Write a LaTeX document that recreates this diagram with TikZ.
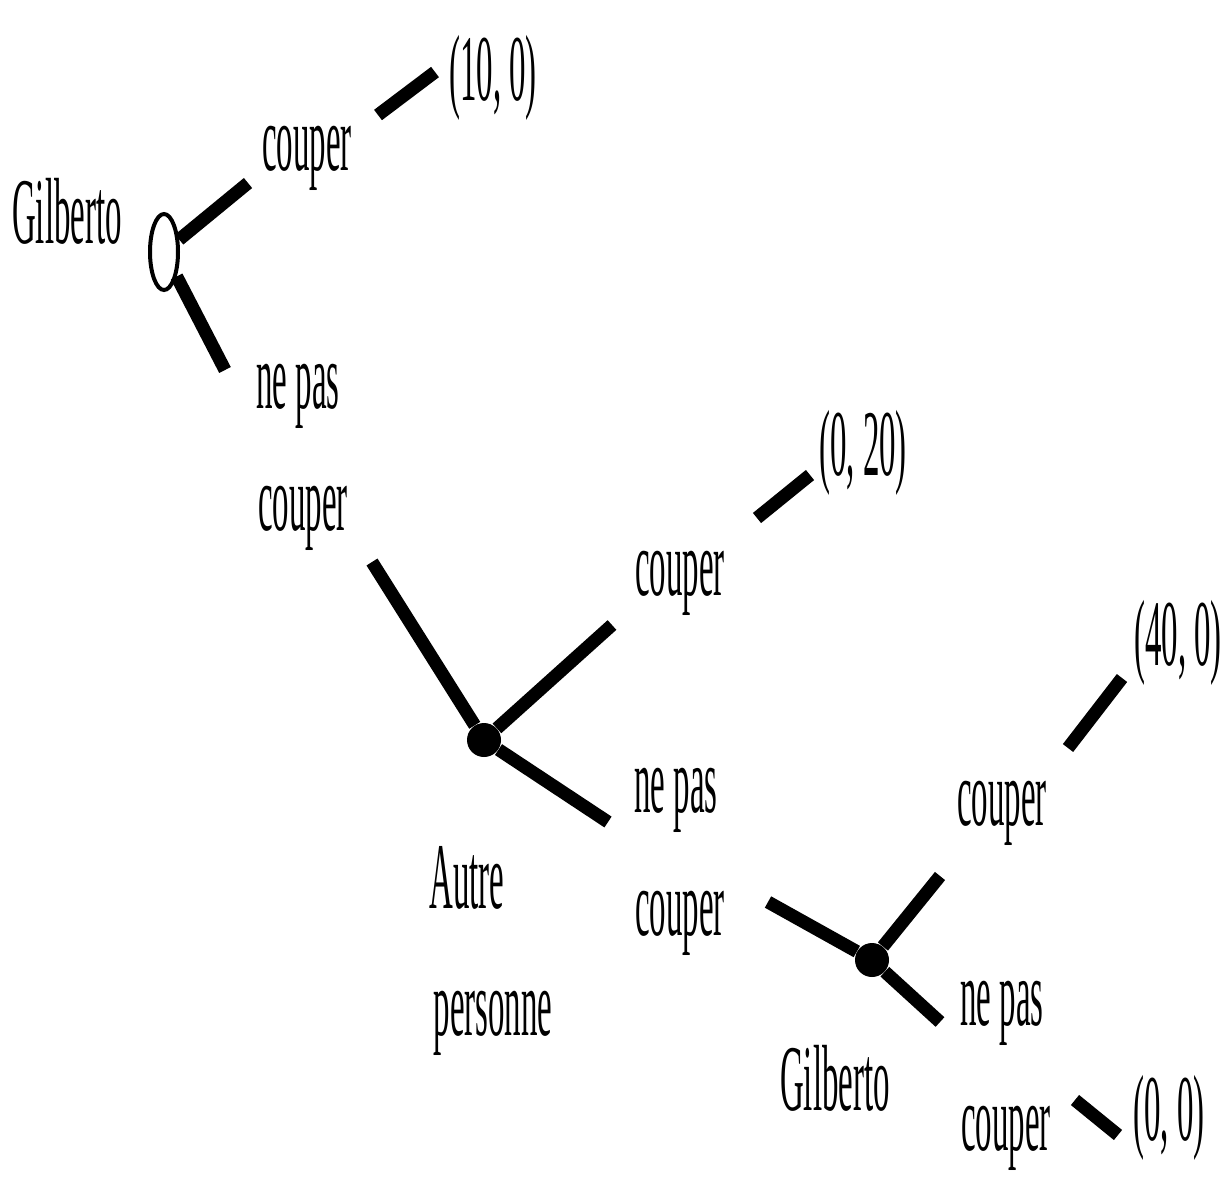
\documentclass[tikz,border=0pt]{standalone}
\usepackage{fontspec}
\setmainfont{Liberation Serif}
\usetikzlibrary{shapes.geometric}
\newcommand{\narrow}[1]{\scalebox{0.35}[1]{#1}}
\begin{document}
\begin{tikzpicture}[x=0.5pt, y=-0.5pt]
  \tikzstyle{lab}=[anchor=base, inner sep=0pt, font=\fontsize{47}{50}\selectfont]
  \tikzstyle{open}=[ellipse, draw, line width=2pt, minimum width=14pt, minimum height=38pt, inner sep=0pt]
  \tikzstyle{full}=[circle, fill, minimum size=17pt, inner sep=0pt]
  \tikzstyle{branch}=[line width=6.5pt]

  \useasboundingbox (0,0) rectangle (1232,1180);

  % decision nodes
  \node[open] (g1) at (164,252)  {};
  \node[full] (a1) at (484,740)  {};
  \node[full] (g2) at (872,960)  {};

  % players
  \node[lab] (pg1) at (67,243)    {\narrow{Gilberto}};
  \node[lab] (pa1) at (467,908)   {\narrow{Autre}};
  \node[lab] (pa2) at (493,1035)  {\narrow{personne}};
  \node[lab] (pg2) at (835,1110)  {\narrow{Gilberto}};

  % actions
  \node[lab] (c1)  at (307,170)   {\narrow{couper}};
  \node[lab] (n1)  at (298,408)   {\narrow{ne pas}};
  \node[lab] (n1b) at (303,530)   {\narrow{couper}};
  \node[lab] (c2)  at (680,595)   {\narrow{couper}};
  \node[lab] (n2)  at (676,812)   {\narrow{ne pas}};
  \node[lab] (n2b) at (680,935)   {\narrow{couper}};
  \node[lab] (c3)  at (1002,825)  {\narrow{couper}};
  \node[lab] (n3)  at (1002,1025) {\narrow{ne pas}};
  \node[lab] (n3b) at (1006,1150) {\narrow{couper}};

  % payoffs
  \node[lab] (r1) at (493,100)   {\narrow{(10, 0)}};
  \node[lab] (r2) at (863,475)   {\narrow{(0, 20)}};
  \node[lab] (r3) at (1178,665)  {\narrow{(40, 0)}};
  \node[lab] (r4) at (1169,1140) {\narrow{(0, 0)}};

  % free ends of the branches
  \coordinate (u1) at (248,183);
  \coordinate (v1) at (378,115);
  \coordinate (w1) at (435,72);
  \coordinate (d1) at (225,370);
  \coordinate (s1) at (372,562);
  \coordinate (u2) at (612,625);
  \coordinate (v2) at (757,518);
  \coordinate (w2) at (810,475);
  \coordinate (d2) at (608,822);
  \coordinate (s2) at (768,902);
  \coordinate (u3) at (940,876);
  \coordinate (v3) at (1068,748);
  \coordinate (w3) at (1122,678);
  \coordinate (d3) at (940,1022);
  \coordinate (v4) at (1075,1100);
  \coordinate (w4) at (1118,1135);

  \draw[branch] (g1) -- (u1);
  \draw[branch] (v1) -- (w1);
  \draw[branch] (g1) -- (d1);
  \draw[branch] (s1) -- (a1);
  \draw[branch] (a1) -- (u2);
  \draw[branch] (v2) -- (w2);
  \draw[branch] (a1) -- (d2);
  \draw[branch] (s2) -- (g2);
  \draw[branch] (g2) -- (u3);
  \draw[branch] (v3) -- (w3);
  \draw[branch] (g2) -- (d3);
  \draw[branch] (v4) -- (w4);
\end{tikzpicture}
\end{document}
